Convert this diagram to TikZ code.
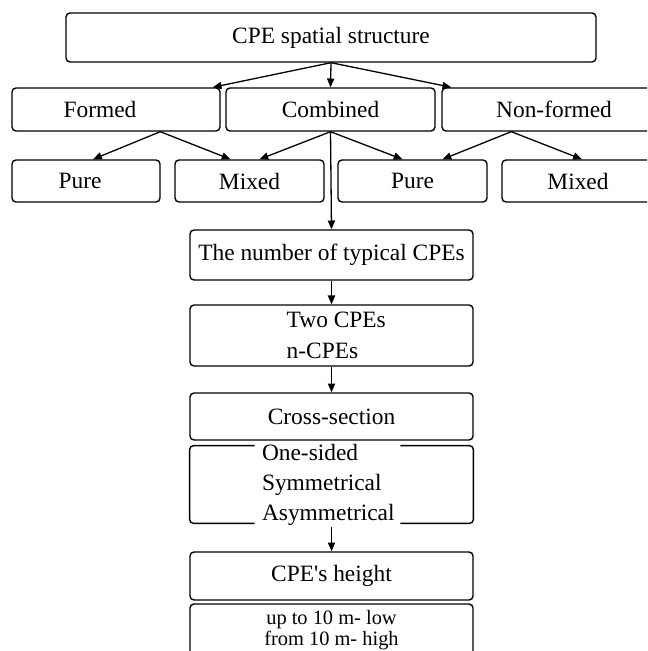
\documentclass[tikz,border=0pt]{standalone}
\usepackage{fontspec}
\setmainfont{Liberation Serif}
\usetikzlibrary{arrows.meta,calc}
\begin{document}
\begin{tikzpicture}[x=0.5pt,y=-0.5pt,
    box/.style={draw,line width=0.7pt,rounded corners=2pt,inner sep=0pt,
      font=\fontsize{11.7}{15.5}\selectfont},
    arr/.style={-{Triangle[length=4.4pt,width=3.6pt]},line width=0.65pt}]
  \clip (0,0) rectangle (647,651);
  \node[box,minimum width=265pt,minimum height=24.5pt] (spatial) at (331,37.5) {CPE spatial structure};
  \node[box,minimum width=104pt,minimum height=21.5pt] (formed) at (116,109.5) {\hspace*{-16pt}Formed};
  \node[box,minimum width=104.5pt,minimum height=21.5pt] (combined) at (330.5,109.5) {Combined};
  \node[box,minimum width=112pt,minimum height=21.5pt] (nonformed) at (554,109.5) {Non-formed};
  \node[box,minimum width=74pt,minimum height=21pt] (pureA) at (86,181) {\hspace*{-6pt}Pure};
  \node[box,minimum width=74.5pt,minimum height=21pt] (mixedA) at (249.5,181) {Mixed};
  \node[box,minimum width=74.5pt,minimum height=21pt] (pureB) at (412.5,181) {Pure};
  \node[box,minimum width=76pt,minimum height=21pt] (mixedB) at (578,181) {Mixed};
  \node[box,minimum width=141.5pt,minimum height=25pt] (number) at (331.5,255) {The number of typical CPEs};
  \node[box,minimum width=141.5pt,minimum height=30.5pt] (two) at (331.5,335.5) {};
  \node[align=left,anchor=west,inner sep=0pt,font=\fontsize{11.7}{15.5}\selectfont]
    (twotext) at ($(two.west)+(97,0)$) {Two CPEs\\n-CPEs};
  \node[box,minimum width=141.5pt,minimum height=23.5pt] (cross) at (331.5,416.5) {Cross-section};
  \node[minimum width=141.5pt,minimum height=38.5pt,inner sep=0pt] (sect) at (331.5,484.5) {};
  \node[align=left,anchor=west,inner sep=0pt,font=\fontsize{11.7}{15}\selectfont]
    (secttext) at ($(sect.west)+(72,0)$) {One-sided\\Symmetrical\\Asymmetrical};
  \draw[line width=0.7pt,rounded corners=2pt] ($(sect.north west)+(65,0)$) -- (sect.north west)
    -- (sect.south west) -- ($(sect.south west)+(65,0)$);
  \draw[line width=0.7pt,rounded corners=2pt] ($(sect.north east)+(-73,0)$) -- (sect.north east)
    -- (sect.south east) -- ($(sect.south east)+(-73,0)$);
  \node[box,minimum width=141.5pt,minimum height=24pt] (height) at (331.5,576) {CPE\textquotesingle s height};
  \node[box,minimum width=141.5pt,minimum height=26pt,align=center,
    font=\fontsize{10.2}{10.5}\selectfont] (classes) at (331.5,630) {up to 10 m- low\\from 10 m- high};
  \coordinate (fhub) at ($(formed.south west)+(149,0)$);
  \coordinate (nhub) at ($(nonformed.south west)+(70,0)$);
  \draw[arr] (spatial.south) -- ($(formed.north east)+(-8,0)$);
  \draw[arr] (spatial.south) -- (combined.north);
  \draw[arr] (spatial.south) -- ($(nonformed.north west)+(10,0)$);
  \draw[arr] (fhub) -- ($(pureA.north)+(7,0)$);
  \draw[arr] (fhub) -- ($(mixedA.north)+(-19,0)$);
  \draw[arr] (combined.south) -- ($(mixedA.north)+(10,0)$);
  \draw[arr] (combined.south) -- ($(pureB.north)+(-10,0)$);
  \draw[arr] (nhub) -- ($(pureB.north)+(30,0)$);
  \draw[arr] (nhub) -- ($(mixedB.north)+(4,0)$);
  \draw[arr] (combined.south) -- (number.north);
  \draw[arr] (number.south) -- (two.north);
  \draw[arr] (two.south) -- (cross.north);
  \draw[arr] ($(sect.south)+(0,4)$) -- (height.north);
\end{tikzpicture}
\end{document}
